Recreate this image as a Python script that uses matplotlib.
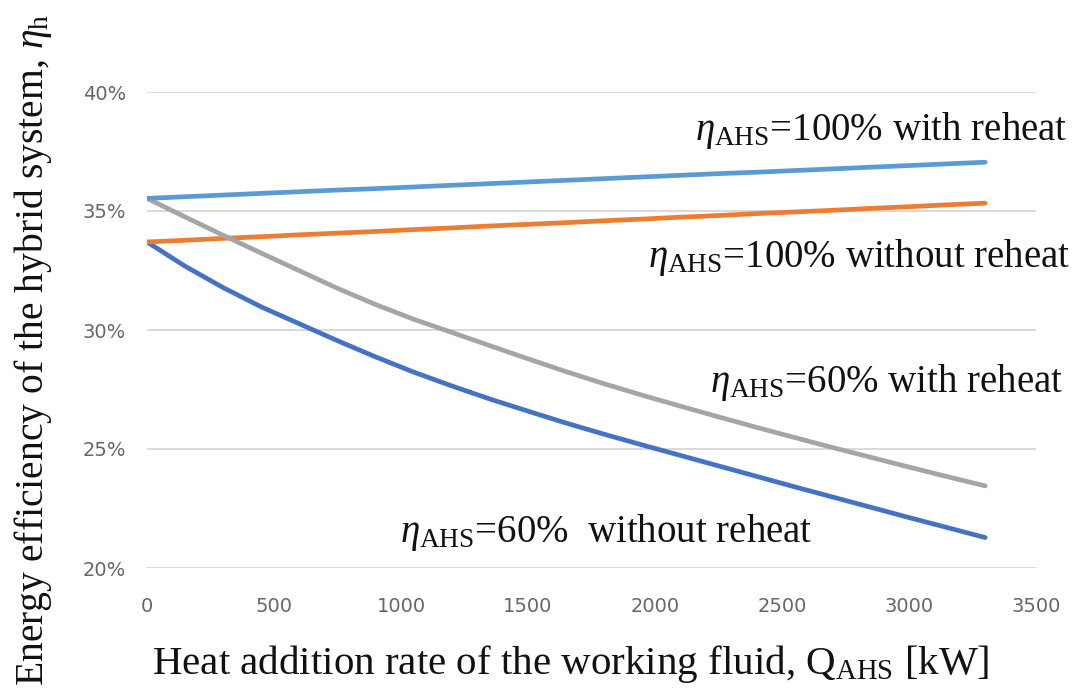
import matplotlib
matplotlib.use("Agg")
import matplotlib.pyplot as plt
from matplotlib.ticker import PercentFormatter

# Heat addition rate of the working fluid (kW)
heat_kw = [0, 150, 300, 450, 600, 750, 900, 1050, 1200, 1350, 1500, 1650,
           1800, 1950, 2100, 2250, 2400, 2550, 2700, 2850, 3000, 3150, 3300]

# Energy efficiency of the hybrid system (%)
eff_60_noreheat = [33.70, 32.68, 31.78, 30.97, 30.26, 29.55, 28.87, 28.23,
                   27.65, 27.10, 26.59, 26.09, 25.62, 25.17, 24.73, 24.29,
                   23.85, 23.41, 22.98, 22.55, 22.12, 21.70, 21.28]
eff_100_noreheat = [33.70, 33.77, 33.85, 33.92, 34.00, 34.07, 34.14, 34.22,
                    34.29, 34.37, 34.44, 34.51, 34.59, 34.66, 34.74, 34.81,
                    34.89, 34.96, 35.03, 35.11, 35.18, 35.26, 35.33]
eff_60_reheat = [35.53, 34.75, 33.98, 33.23, 32.49, 31.75, 31.07, 30.45,
                 29.90, 29.34, 28.79, 28.25, 27.74, 27.26, 26.80, 26.35,
                 25.91, 25.48, 25.06, 24.65, 24.24, 23.84, 23.45]
eff_100_reheat = [35.53, 35.60, 35.67, 35.74, 35.81, 35.88, 35.94, 36.01,
                  36.08, 36.15, 36.22, 36.29, 36.36, 36.43, 36.50, 36.57,
                  36.63, 36.70, 36.77, 36.84, 36.91, 36.98, 37.05]

x_ticks = [0, 500, 1000, 1500, 2000, 2500, 3000, 3500]
y_ticks = [20, 25, 30, 35, 40]

plt.rcParams["mathtext.fontset"] = "custom"
plt.rcParams["mathtext.rm"] = "Liberation Serif"
plt.rcParams["mathtext.it"] = "Liberation Serif:italic"
plt.rcParams["mathtext.bf"] = "Liberation Serif:bold"

W, H = 1086, 698
fig = plt.figure(figsize=(W / 100, H / 100), dpi=100)
ax = fig.add_axes([147 / W, 1 - 568 / H, 889 / W, 476 / H])

series = [
    (eff_60_noreheat, "#4472C4"),
    (eff_100_noreheat, "#ED7D31"),
    (eff_60_reheat, "#A5A5A5"),
    (eff_100_reheat, "#5B9BD5"),
]
for vals, col in series:
    ax.plot(heat_kw, vals, color=col, lw=3.4, solid_capstyle="round",
            solid_joinstyle="round", zorder=3)

ax.set_xlim(0, 3500)
ax.set_ylim(20, 40)
ax.set_xticks(x_ticks)
ax.set_yticks(y_ticks)
ax.yaxis.set_major_formatter(PercentFormatter(xmax=100, decimals=0))
ax.grid(axis="y", color="#d9d9d9", lw=1.4, zorder=1)
ax.grid(axis="x", visible=False)
for s in ax.spines.values():
    s.set_visible(False)
ax.tick_params(axis="both", length=0, labelsize=14, labelcolor="#666666")
ax.tick_params(axis="y", pad=15)
ax.tick_params(axis="x", pad=21)

serif = "Liberation Serif"

def ftext(px, py, s, fs=28, **kw):
    fig.text(px / W, 1 - py / H, s, family=serif, fontsize=fs, color="#111111", **kw)

# Curve annotations
ftext(881, 140, r"$\eta_{\rm AHS}$=100% with reheat", ha="center", va="baseline")
ftext(859, 267, r"$\eta_{\rm AHS}$=100% without reheat", ha="center", va="baseline")
ftext(887, 392, r"$\eta_{\rm AHS}$=60% with reheat", ha="center", va="baseline")
ftext(606, 542, r"$\eta_{\rm AHS}$=60%  without reheat", ha="center", va="baseline")

# Axis titles
ftext(571, 664, r"Heat addition rate of the working fluid, Q$_{\rm AHS}$ [kW]",
      fs=29.5, ha="center", va="center")
ftext(33, 350, r"Energy efficiency of the hybrid system, $\eta_{\rm h}$",
      fs=28.5, ha="center", va="center", rotation=90)

fig.savefig("out.png", dpi=100)
